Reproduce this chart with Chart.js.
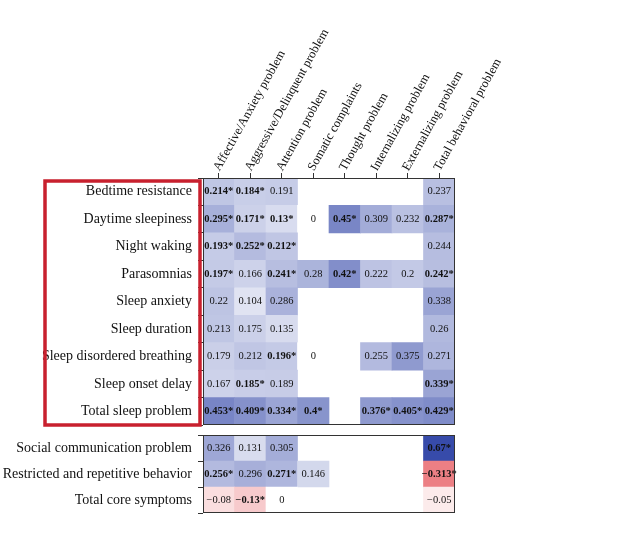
<!DOCTYPE html>
<html>
<head>
<meta charset="utf-8">
<script src="https://cdn.jsdelivr.net/npm/chart.js@4"></script>
<style>
  body { margin: 0; background: #fff; }
  #wrap { position: relative; width: 640px; height: 533px; overflow: hidden; }
  canvas { position: absolute; left: 0; top: 0; }
</style>
</head>
<body>
<div id="wrap">
  <canvas id="cMain" width="640" height="533"></canvas>
  <canvas id="cRight" width="640" height="533"></canvas>
  <canvas id="cBottom" width="640" height="533"></canvas>
</div>
<script>
// sleep rows x behavior / autism columns; null = blank cell, sig 1 = bold with *
var sleepRows = ["Bedtime resistance", "Daytime sleepiness", "Night waking", "Parasomnias",
  "Sleep anxiety", "Sleep duration", "Sleep disordered breathing", "Sleep onset delay", "Total sleep problem"];
var behaviorCols = ["Affective/Anxiety problem", "Aggressive/Delinquent problem", "Attention problem",
  "Somatic complaints", "Thought problem", "Internalizing problem", "Externalizing problem", "Total behavioral problem"];
var autismCols = ["Social communication problem", "Restricted and repetitive behavior", "total core symptoms"];
var coreRows = ["Social communication problem", "Restricted and repetitive behavior", "Total core symptoms"];

var behaviorVals = [
  [0.214, 0.184, 0.191, null, null, null, null, 0.237],
  [0.295, 0.171, 0.13, 0, 0.45, 0.309, 0.232, 0.287],
  [0.193, 0.252, 0.212, null, null, null, null, 0.244],
  [0.197, 0.166, 0.241, 0.28, 0.42, 0.222, 0.2, 0.242],
  [0.22, 0.104, 0.286, null, null, null, null, 0.338],
  [0.213, 0.175, 0.135, null, null, null, null, 0.26],
  [0.179, 0.212, 0.196, 0, null, 0.255, 0.375, 0.271],
  [0.167, 0.185, 0.189, null, null, null, null, 0.339],
  [0.453, 0.409, 0.334, 0.4, null, 0.376, 0.405, 0.429]
];
var behaviorSig = [
  [1, 1, 0, 0, 0, 0, 0, 0],
  [1, 1, 1, 0, 1, 0, 0, 1],
  [1, 1, 1, 0, 0, 0, 0, 0],
  [1, 0, 1, 0, 1, 0, 0, 1],
  [0, 0, 0, 0, 0, 0, 0, 0],
  [0, 0, 0, 0, 0, 0, 0, 0],
  [0, 0, 1, 0, 0, 0, 0, 0],
  [0, 1, 0, 0, 0, 0, 0, 1],
  [1, 1, 1, 1, 0, 1, 1, 1]
];
var autismVals = [
  [0.029, 0.256, 0.124],
  [0.011, 0.127, 0.063],
  [0.064, 0.112, 0.16],
  [0.023, 0.069, 0.121],
  [0.091, 0.289, 0.26],
  [0.064, -0.075, -0.025],
  [-0.024, 0.049, 0.014],
  [0.233, 0.192, 0.097],
  [0.144, 0.194, 0.293]
];
var autismSig = [
  [0, 0, 0], [0, 0, 0], [0, 0, 0], [0, 0, 0], [0, 1, 0],
  [0, 0, 0], [0, 0, 0], [0, 1, 0], [0, 0, 0]
];
var coreVals = [
  [0.326, 0.131, 0.305, null, null, null, null, 0.67],
  [0.256, 0.296, 0.271, 0.146, null, null, null, -0.313],
  [-0.08, -0.13, 0, null, null, null, null, -0.05]
];
var coreSig = [
  [0, 0, 0, 0, 0, 0, 0, 1],
  [1, 0, 1, 0, 0, 0, 0, 1],
  [0, 1, 0, 0, 0, 0, 0, 0]
];

var SERIF = "'Liberation Serif', 'DejaVu Serif', serif";

function cellColor(v) {
  if (v >= 0) {
    var t = Math.min(v / 0.67, 1);
    return "rgb(" + Math.round(255 - t * 200) + "," + Math.round(255 - t * 180) + "," + Math.round(255 - t * 85) + ")";
  }
  var n = Math.min(-v / 0.33, 1);
  return "rgb(" + Math.round(255 - n * 20) + "," + Math.round(255 - n * 135) + "," + Math.round(255 - n * 130) + ")";
}

function cellText(v, s) {
  return String(v).replace("-", "\u2212") + (s ? "*" : "");
}

function buildPoints(rows, vals, sig) {
  var pts = [];
  vals.forEach(function (row, r) {
    row.forEach(function (v, c) {
      if (v === null) return;
      pts.push({ y: rows[r], x: [c - 0.5, c + 0.5], col: c, row: r, v: v, s: sig[r][c] });
    });
  });
  return pts;
}

// frame + numbers in each cell + rotated header labels + red box
function cellPlugin(heads, box) {
  return {
    id: "cells",
    afterDatasetsDraw: function (chart) {
      var ctx = chart.ctx, a = chart.chartArea;
      var xs = chart.scales.x, ys = chart.scales.y;
      var pts = chart.data.datasets[0].data;
      ctx.save();
      ctx.textAlign = "center";
      ctx.textBaseline = "middle";
      ctx.fillStyle = "#111";
      pts.forEach(function (p) {
        ctx.font = (p.s ? "bold " : "") + "10.5px " + SERIF;
        ctx.fillText(cellText(p.v, p.s), xs.getPixelForValue(p.col), ys.getPixelForValue(p.row));
      });
      ctx.strokeStyle = "#333";
      ctx.lineWidth = 1;
      ctx.strokeRect(a.left + 0.5, a.top + 0.5, a.right - a.left - 1, a.bottom - a.top - 1);
      if (heads) {
        ctx.font = "12.5px " + SERIF;
        ctx.textAlign = "left";
        heads.forEach(function (h, i) {
          ctx.save();
          ctx.translate(xs.getPixelForValue(i) - 2, a.top - 8);
          ctx.rotate(-61 * Math.PI / 180);
          ctx.fillText(h, 0, 0);
          ctx.restore();
        });
      }
      if (box) {
        ctx.strokeStyle = "#c8202e";
        ctx.lineWidth = 3.5;
        ctx.strokeRect(box[0], box[1], box[2], box[3]);
      }
      ctx.restore();
    }
  };
}

function makeChart(id, rows, vals, sig, opt) {
  var pts = buildPoints(rows, vals, sig);
  var ncol = vals[0].length;
  return new Chart(document.getElementById(id), {
    type: "bar",
    data: {
      labels: rows,
      datasets: [{
        data: pts,
        backgroundColor: pts.map(function (p) { return cellColor(p.v); }),
        borderWidth: 0,
        barPercentage: 1,
        categoryPercentage: 1
      }]
    },
    options: {
      indexAxis: "y",
      responsive: false,
      animation: false,
      devicePixelRatio: 1,
      layout: { padding: opt.padding },
      plugins: { legend: { display: false }, tooltip: { enabled: false } },
      scales: {
        x: {
          type: "linear", position: "top", min: -0.5, max: ncol - 0.5,
          display: opt.topAxis,
          afterBuildTicks: function (s) {
            s.ticks = vals[0].map(function (_, i) { return { value: i }; });
          },
          afterFit: function (s) { s.height = opt.topH; },
          ticks: { display: false },
          border: { display: false },
          grid: { drawOnChartArea: false, drawTicks: true, tickLength: 5, color: "#333" }
        },
        y: {
          display: opt.leftAxis,
          afterFit: function (s) { s.width = 203; },
          ticks: { color: "#111", font: { family: SERIF, size: 14 }, padding: 6 },
          border: { display: false },
          grid: { drawOnChartArea: false, drawTicks: true, tickLength: 5, color: "#333" }
        }
      }
    },
    plugins: [cellPlugin(opt.heads, opt.box)]
  });
}

try {
  makeChart("cMain", sleepRows, behaviorVals, behaviorSig, {
    padding: { right: 185, bottom: 108 }, topH: 178, heads: behaviorCols,
    box: [45, 181, 155, 244], topAxis: true, leftAxis: true
  });
} catch (e) { console.error(e); }
try {
  makeChart("cRight", sleepRows, autismVals, autismSig, {
    padding: { left: 465, right: 81, bottom: 108 }, topH: 178, heads: autismCols,
    topAxis: true, leftAxis: false
  });
} catch (e) { console.error(e); }
try {
  makeChart("cBottom", coreRows, coreVals, coreSig, {
    padding: { right: 185, top: 435, bottom: 20 }, topH: 0,
    topAxis: false, leftAxis: true
  });
} catch (e) { console.error(e); }
</script>
</body>
</html>
